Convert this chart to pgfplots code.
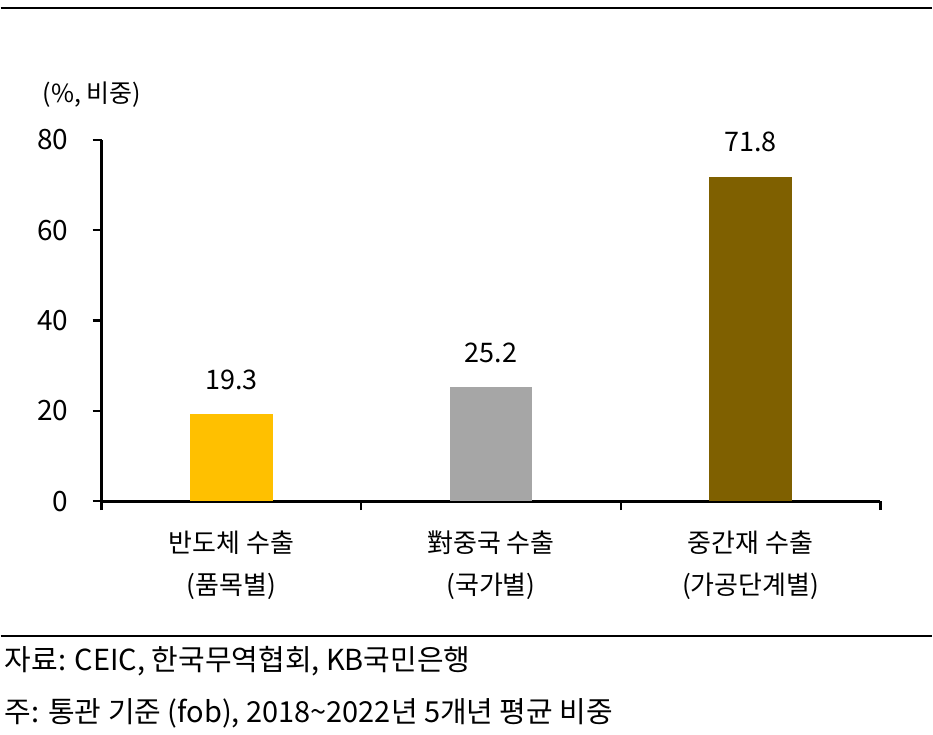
\documentclass[border=0pt]{standalone}
\usepackage{pgfplots}
\pgfplotsset{compat=1.18}
\usepackage{fontspec}
\setmainfont{Noto Sans CJK KR}
\definecolor{barYel}{HTML}{FFC000}
\definecolor{barGry}{HTML}{A6A6A6}
\definecolor{barBrn}{HTML}{7F6000}
\newcommand{\txt}{\fontsize{26}{42}\selectfont}
\newcommand{\foot}{\fontsize{29}{32}\selectfont}
\newcommand{\num}{\fontsize{28}{32}\selectfont}
\newcommand{\val}{\fontsize{27}{32}\selectfont}
\begin{document}
\begin{tikzpicture}[x=1pt,y=1pt]
\path (0,0) rectangle (933,736);
\draw[line width=1.5pt] (0,728) -- (933,728);
\draw[line width=1.2pt] (0,99) -- (933,99);
\node[anchor=west, font=\fontsize{25}{30}\selectfont, inner sep=0] at (42,641) {(\%, 비중)};
\node[anchor=west, font=\foot, inner sep=0] at (4,74) {자료: CEIC, 한국무역협회, KB국민은행};
\node[anchor=west, font=\foot, inner sep=0] at (4,21) {주: 통관 기준 (fob), 2018\textasciitilde 2022년 5개년 평균 비중};
\begin{axis}[
    at={(101pt,234pt)}, anchor=south west,
    scale only axis, width=780pt, height=362pt,
    xmin=0, xmax=3, ymin=0, ymax=80,
    clip=false,
    axis x line*=bottom, axis y line*=left,
    axis line style={line width=3pt, -},
    tick align=outside, major tick length=9pt,
    tick style={line width=2.5pt, black},
    xtick={0,1,2,3}, xticklabels={},
    ytick={0,20,40,60,80},
    yticklabel style={font=\num, xshift=-21pt},
    /pgf/number format/assume math mode=true,
    extra x ticks={0.5,1.5,2.5},
    extra x tick labels={{반도체 수출\\(품목별)},{對중국 수출\\(국가별)},{중간재 수출\\(가공단계별)}},
    extra x tick style={major tick length=0pt,
        tick label style={font=\txt, align=center, text height=18pt, yshift=-72pt}},
    ybar, bar width=83pt, bar shift=0pt,
    nodes near coords={\pgfmathprintnumber[fixed,precision=1,fixed zerofill]{\pgfplotspointmeta}},
    every node near coord/.append style={font=\val, anchor=south, yshift=21pt, black},
]
\addplot[fill=barYel, draw=none] coordinates {(0.5,19.3)};
\addplot[fill=barGry, draw=none] coordinates {(1.5,25.2)};
\addplot[fill=barBrn, draw=none] coordinates {(2.5,71.8)};
\end{axis}
\end{tikzpicture}
\end{document}
